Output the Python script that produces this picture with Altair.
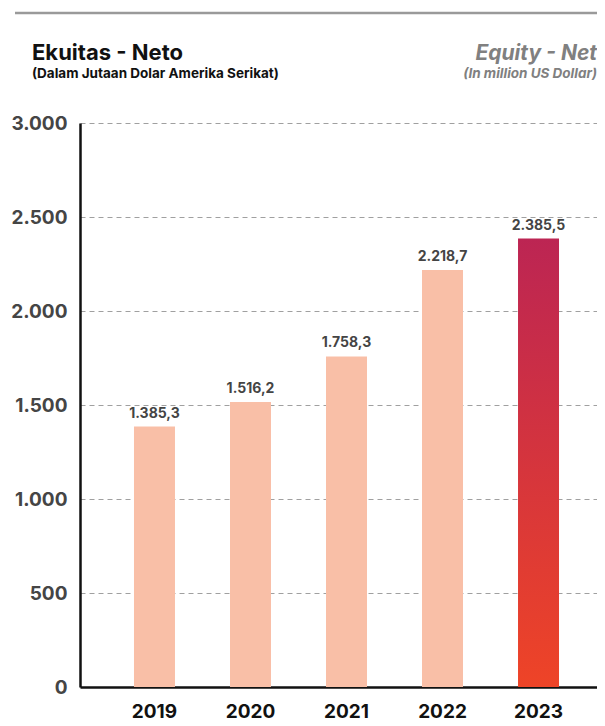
import altair as alt
import pandas as pd

# ---- data ----
years = ["2019", "2020", "2021", "2022", "2023"]
values = [1385.3, 1516.2, 1758.3, 2218.7, 2385.5]
highlight = [False, False, False, False, True]
y_ticks = [0, 500, 1000, 1500, 2000, 2500, 3000]

title_left = "Ekuitas - Neto"
subtitle_left = "(Dalam Jutaan Dolar Amerika Serikat)"
title_right = "Equity - Net"
subtitle_right = "(In million US Dollar)"

df = pd.DataFrame({"year": years, "value": values, "hl": highlight})
one = pd.DataFrame({"k": [0]})

FONT = "Inter"
W, H = 517, 564

x_enc = alt.X(
    "year:N",
    scale=alt.Scale(domain=years, paddingInner=0.573, paddingOuter=0.479, align=0.587),
    axis=alt.Axis(
        title=None, ticks=False, labelAngle=0, labelFont=FONT, labelFontSize=19,
        labelFontWeight="bold", labelColor="#111111", labelPadding=15,
        domainColor="#111111", domainWidth=2.5, grid=False,
    ),
)
y_enc = alt.Y(
    "value:Q",
    scale=alt.Scale(domain=[0, 3000], nice=False),
    axis=alt.Axis(
        title=None, values=y_ticks, ticks=False,
        labelExpr="replace(format(datum.value, ',.0f'), ',', '.')",
        labelFont=FONT, labelFontSize=19, labelFontWeight="bold", labelColor="#454545",
        labelPadding=13, domainColor="#111111", domainWidth=2.5,
        grid=True, gridColor="#a0a0a0", gridDash=[5, 4], gridWidth=1,
    ),
)

base = alt.Chart(df)

bars = base.transform_filter("!datum.hl").mark_bar(color="#F9BFA7").encode(x=x_enc, y=y_enc)

grad = alt.Gradient(
    gradient="linear",
    stops=[alt.GradientStop(color="#BC2553", offset=0), alt.GradientStop(color="#EE4427", offset=1)],
    x1=0, x2=0, y1=0, y2=1,
)
bar_hl = base.transform_filter("datum.hl").mark_bar(color=grad).encode(x=x_enc, y=y_enc)

labels = base.transform_calculate(
    lbl="replace(replace(replace(format(datum.value, ',.1f'), ',', '#'), '.', ','), '#', '.')"
).mark_text(
    baseline="bottom", dy=-6, font=FONT, fontSize=14, fontWeight="bold", color="#444444"
).encode(x=x_enc, y=y_enc, text="lbl:N")

hdr = alt.Chart(one)
top_line = hdr.mark_rule(color="#9a9a9a", strokeWidth=2.5).encode(
    x=alt.value(-65), x2=alt.value(W), y=alt.value(-110)
)
t1 = hdr.mark_text(text=title_left, align="left", baseline="alphabetic", font=FONT,
                   fontSize=22, fontWeight="bold", color="#111111").encode(
    x=alt.value(-48), y=alt.value(-63))
t2 = hdr.mark_text(text=subtitle_left, align="left", baseline="alphabetic", font=FONT,
                   fontSize=13.5, fontWeight="bold", color="#111111").encode(
    x=alt.value(-48), y=alt.value(-45))
t3 = hdr.mark_text(text=title_right, align="right", baseline="alphabetic", font=FONT,
                   fontSize=21, fontWeight="bold", fontStyle="italic", color="#808080").encode(
    x=alt.value(W), y=alt.value(-63))
t4 = hdr.mark_text(text=subtitle_right, align="right", baseline="alphabetic", font=FONT,
                   fontSize=13.5, fontWeight="bold", fontStyle="italic", color="#808080").encode(
    x=alt.value(W), y=alt.value(-45))

chart = alt.layer(bars, bar_hl, labels, top_line, t1, t2, t3, t4).properties(
    width=W, height=H,
    autosize=alt.AutoSizeParams(type="none"),
    padding={"left": 72, "top": 115, "right": 0, "bottom": 38},
).configure_view(stroke=None)

chart.save("out.html", embed_options={"renderer": "svg", "actions": False})
